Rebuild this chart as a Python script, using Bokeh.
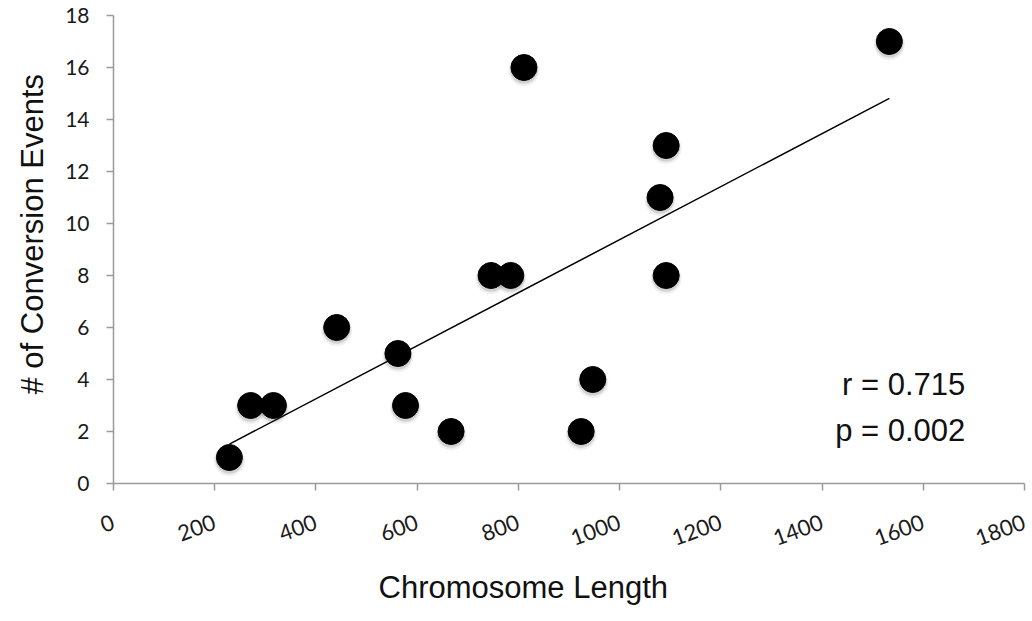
import numpy as np
from bokeh.plotting import figure
from bokeh.models import Range1d, FixedTicker, Label, Title
from bokeh.embed import file_html
from bokeh.resources import INLINE

# Data
chrom_length = [229, 271, 316, 441, 562, 577, 667, 746, 785, 811, 924, 947, 1080, 1092, 1092, 1533]
conversion_events = [1, 3, 3, 6, 5, 3, 2, 8, 8, 16, 2, 4, 11, 13, 8, 17]
x_ticks = [0, 200, 400, 600, 800, 1000, 1200, 1400, 1600, 1800]
y_ticks = [0, 2, 4, 6, 8, 10, 12, 14, 16, 18]
stats_lines = ["r = 0.715", "p = 0.002"]
x_title = "Chromosome Length"
y_title = "# of Conversion Events"

x = np.array(chrom_length, dtype=float)
y = np.array(conversion_events, dtype=float)
slope, intercept = np.polyfit(x, y, 1)
tx = np.array([x.min(), x.max()])
ty = slope * tx + intercept

p = figure(width=1028, height=617, output_backend="svg", toolbar_location=None,
           x_range=Range1d(0, 1800), y_range=Range1d(0, 18),
           min_border_left=113, min_border_top=15, min_border_right=4, min_border_bottom=134)
p.outline_line_color = None
p.grid.grid_line_color = None
p.background_fill_color = "white"
p.border_fill_color = "white"

# soft shadow
p.scatter(x, y - 0.12, size=31, fill_color="#000000", fill_alpha=0.06, line_color=None)
p.scatter(x, y - 0.09, size=28, fill_color="#000000", fill_alpha=0.12, line_color=None)
# trend line
p.line(tx, ty, line_color="black", line_width=1.5)
# points
p.scatter(x, y, size=26, fill_color="black", line_color="black")

for ax in (p.xaxis[0], p.yaxis[0]):
    ax.axis_line_color = "#9a9a9a"
    ax.axis_line_width = 1.5
    ax.major_tick_line_color = "#9a9a9a"
    ax.major_tick_line_width = 1.5
    ax.major_tick_out = 7
    ax.major_tick_in = 0
    ax.minor_tick_line_color = None
    ax.major_label_text_font = "Lato"
    ax.major_label_text_font_size = "22px"
    ax.major_label_text_color = "#1a1a1a"

p.yaxis.major_label_text_font_size = "21px"
p.xaxis.ticker = FixedTicker(ticks=x_ticks)
p.yaxis.ticker = FixedTicker(ticks=y_ticks)
p.xaxis.major_label_orientation = 0.35
p.xaxis.major_label_standoff = 31
p.yaxis.major_label_standoff = 17

# axis titles (placed off-centre as in the reference)
p.add_layout(Title(text=x_title, align="left", offset=265, standoff=23,
                   text_font="Liberation Sans", text_font_size="31px",
                   text_font_style="normal", text_color="#111111"), "below")
p.add_layout(Title(text=y_title, align="left", offset=89, standoff=25,
                   text_font="Liberation Sans", text_font_size="31px",
                   text_font_style="normal", text_color="#111111"), "left")

for i, txt in enumerate(stats_lines):
    p.add_layout(Label(x=1683, y=3.8 - i * 1.77, text=txt, text_align="right",
                       text_baseline="middle", text_font="Liberation Sans",
                       text_font_size="31px", text_color="#111111"))

open("out.html", "w").write(file_html(p, INLINE))
